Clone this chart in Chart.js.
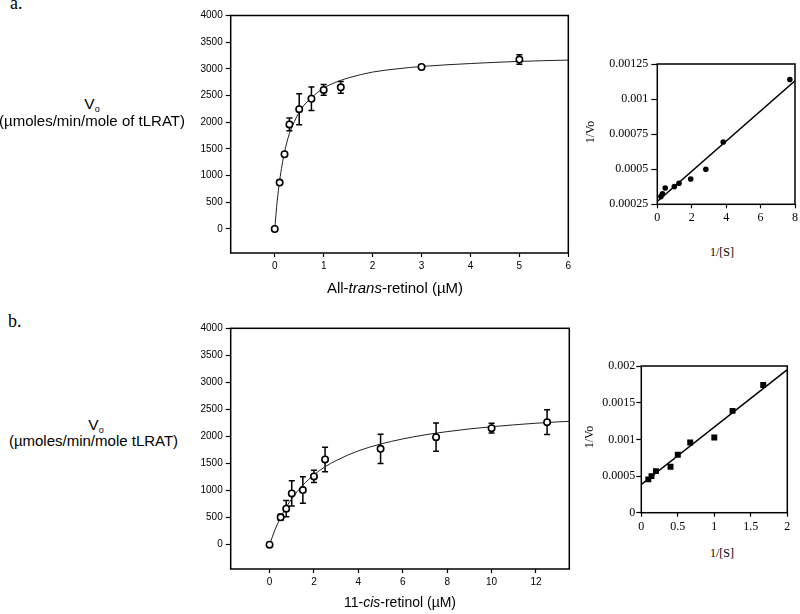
<!DOCTYPE html>
<html>
<head>
<meta charset="utf-8">
<script src="https://cdn.jsdelivr.net/npm/chart.js@4"></script>
<style>
  html, body { margin:0; padding:0; background:#fff; }
  body { width:800px; height:614px; position:relative; overflow:hidden; -webkit-font-smoothing:antialiased; }
  .c { position:absolute; }
  .t { position:absolute; white-space:nowrap; color:#000; line-height:1; transform:translate(-50%,-50%); }
  .sans { font-family:"Liberation Sans", Arial, Helvetica, sans-serif; }
  .serif { font-family:"Liberation Serif", "Times New Roman", Times, serif; color:#000; }
  .rot { transform:translate(-50%,-50%) rotate(-90deg); }
  sub { font-size:9px; vertical-align:-3px; line-height:0; }
</style>
</head>
<body>

<div class="c" style="left:180px;top:0px;"><canvas id="cA" width="420" height="300"></canvas></div>
<div class="c" style="left:600px;top:50px;"><canvas id="cAi" width="200" height="180"></canvas></div>
<div class="c" style="left:180px;top:314px;"><canvas id="cB" width="420" height="300"></canvas></div>
<div class="c" style="left:600px;top:350px;"><canvas id="cBi" width="200" height="190"></canvas></div>

<div class="serif" style="position:absolute;left:10px;top:-5.6px;font-size:18px;line-height:1;">a.</div>
<div class="serif" style="position:absolute;left:8px;top:311.6px;font-size:18px;line-height:1;">b.</div>

<div class="t sans" style="left:92px;top:104px;font-size:15.5px;">V<sub>o</sub></div>
<div class="t sans" style="left:92px;top:119.5px;font-size:15px;">(µmoles/min/mole of tLRAT)</div>
<div class="t sans" style="left:96px;top:425px;font-size:15.5px;">V<sub>o</sub></div>
<div class="t sans" style="left:93.5px;top:439.5px;font-size:15px;">(µmoles/min/mole tLRAT)</div>

<div class="t sans" style="left:395px;top:287px;font-size:15px;">All-<i>trans</i>-retinol (µM)</div>
<div class="t sans" style="left:400px;top:601.7px;font-size:14px;">11-<i>cis</i>-retinol (µM)</div>

<div class="t serif" style="left:722px;top:252px;font-size:12px;">1/[S]</div>
<div class="t serif" style="left:722px;top:553px;font-size:12px;">1/[S]</div>
<div class="t serif rot" style="left:590px;top:132px;font-size:12px;">1/Vo</div>
<div class="t serif rot" style="left:589px;top:437px;font-size:12px;">1/Vo</div>

<script>
// ================= DATA =================
// Panel a: all-trans-retinol saturation
const aSubstrate = [0, 0.1, 0.2, 0.3, 0.5, 0.75, 1, 1.35, 3, 5];
const aRate      = [0, 870, 1400, 1960, 2245, 2440, 2605, 2655, 3035, 3175];
const aRateErr   = [0, 0, 0, 120, 290, 220, 100, 110, 20, 90];
const aFitX = [0, 0.05, 0.1, 0.15, 0.2, 0.3, 0.4, 0.5, 0.6, 0.75, 1, 1.25, 1.5, 2, 2.5, 3, 4, 5, 6];
const aFitY = [0, 520, 900, 1200, 1440, 1790, 2010, 2190, 2320, 2460, 2640, 2750, 2830, 2940, 3000, 3045, 3100, 3140, 3165];
const aXTicks = [0, 1, 2, 3, 4, 5, 6];
const aYTicks = [0, 500, 1000, 1500, 2000, 2500, 3000, 3500, 4000];

// Panel a inset: Lineweaver-Burk
const aInvS = [0.21, 0.30, 0.46, 0.99, 1.26, 1.94, 2.82, 3.83, 7.70];
const aInvV = [0.000305, 0.000324, 0.000366, 0.000376, 0.0004, 0.00043, 0.0005, 0.000694, 0.00114];
const aInvFitX = [0, 8];
const aInvFitY = [0.00027, 0.00113];
const aInvXTicks = [0, 2, 4, 6, 8];
const aInvYTicks = [0.00025, 0.0005, 0.00075, 0.001, 0.00125];

// Panel b: 11-cis-retinol saturation
const bSubstrate = [0, 0.5, 0.75, 1, 1.5, 2, 2.5, 5, 7.5, 10, 12.5];
const bRate      = [0, 505, 665, 948, 1009, 1262, 1575, 1772, 1988, 2154, 2265];
const bRateErr   = [0, 55, 150, 235, 245, 115, 225, 270, 260, 90, 230];
const bFitX = [0, 0.25, 0.5, 0.75, 1, 1.5, 2, 2.5, 3, 4, 5, 6, 7, 8, 9, 10, 11, 12, 13, 13.5];
const bFitY = [0, 280, 505, 690, 850, 1100, 1290, 1440, 1555, 1735, 1860, 1955, 2030, 2090, 2140, 2180, 2215, 2245, 2270, 2280];
const bXTicks = [0, 2, 4, 6, 8, 10, 12];
const bYTicks = [0, 500, 1000, 1500, 2000, 2500, 3000, 3500, 4000];

// Panel b inset: Lineweaver-Burk
const bInvS = [0.096, 0.14, 0.2, 0.40, 0.50, 0.67, 1.0, 1.25, 1.67];
const bInvV = [0.000454, 0.000499, 0.000567, 0.000626, 0.000789, 0.000957, 0.001025, 0.001388, 0.001741];
const bInvFitX = [0, 2];
const bInvFitY = [0.000385, 0.00195];
const bInvXTicks = [0, 0.5, 1, 1.5, 2];
const bInvYTicks = [0, 0.0005, 0.001, 0.0015, 0.002];

// ================= HELPERS =================
const SANS = '"Liberation Sans", Arial, Helvetica, sans-serif';
const SERIF = '"Liberation Serif", "Times New Roman", Times, serif';

function pts(xs, ys) { return xs.map((x, i) => ({ x: x, y: ys[i] })); }

function framePlugin(lw) {
  return {
    id: 'frame',
    afterDatasetsDraw(chart) {
      const a = chart.chartArea, ctx = chart.ctx;
      ctx.save();
      ctx.strokeStyle = '#000';
      ctx.lineWidth = lw;
      ctx.strokeRect(a.left, a.top, a.right - a.left, a.bottom - a.top);
      ctx.restore();
    }
  };
}

function errPlugin(xs, ys, errs, cap) {
  return {
    id: 'errbars',
    beforeDatasetsDraw(chart) {
      const sx = chart.scales.x, sy = chart.scales.y, ctx = chart.ctx;
      ctx.save();
      ctx.strokeStyle = '#000';
      ctx.lineWidth = 1.5;
      xs.forEach((xv, i) => {
        const e = errs[i];
        if (!e) return;
        const px = sx.getPixelForValue(xv);
        const p1 = sy.getPixelForValue(ys[i] + e);
        const p2 = sy.getPixelForValue(ys[i] - e);
        ctx.beginPath();
        ctx.moveTo(px, p1); ctx.lineTo(px, p2);
        ctx.moveTo(px - cap, p1); ctx.lineTo(px + cap, p1);
        ctx.moveTo(px - cap, p2); ctx.lineTo(px + cap, p2);
        ctx.stroke();
      });
      ctx.restore();
    }
  };
}

function axis(o) {
  return {
    type: 'linear',
    position: o.pos,
    min: o.min, max: o.max,
    afterBuildTicks: s => { s.ticks = o.ticks.map(v => ({ value: v })); },
    afterFit: s => { if (o.pos === 'left') s.width = o.size; else s.height = o.size; },
    ticks: {
      color: '#000', autoSkip: false, maxRotation: 0, padding: o.pad,
      font: { family: o.family, size: o.fontSize },
      callback: v => String(v)
    },
    grid: { display: true, drawOnChartArea: false, drawTicks: true, tickLength: o.tl, tickWidth: 1.2, tickColor: '#000' },
    border: { display: false }
  };
}

function makeChart(id, W, H, area, xo, yo, datasets, plugins) {
  const ctx = document.getElementById(id);
  return new Chart(ctx, {
    type: 'scatter',
    data: { datasets: datasets },
    options: {
      responsive: false, animation: false, events: [],
      layout: { autoPadding: false, padding: { left: 0, top: area.t, right: W - area.r, bottom: 0 } },
      plugins: { legend: { display: false }, tooltip: { enabled: false } },
      scales: {
        x: axis(Object.assign({ pos: 'bottom', size: H - area.b }, xo)),
        y: axis(Object.assign({ pos: 'left', size: area.l }, yo))
      }
    },
    plugins: plugins
  });
}

// ================= CHARTS =================
// Panel a main
makeChart('cA', 420, 300, { l: 50.7, t: 15.5, r: 388.3, b: 253 },
  { min: -0.9, max: 6, ticks: aXTicks, family: SANS, fontSize: 10, pad: 3, tl: 4 },
  { min: -450, max: 4000, ticks: aYTicks, family: SANS, fontSize: 10, pad: 3, tl: 5 },
  [
    { data: pts(aSubstrate, aRate), pointStyle: 'circle', pointRadius: 3.2, pointBorderWidth: 1.6,
      pointBackgroundColor: '#fff', pointBorderColor: '#000', showLine: false },
    { data: pts(aFitX, aFitY), showLine: true, borderColor: '#222', borderWidth: 1,
      pointRadius: 0, cubicInterpolationMode: 'monotone' }
  ],
  [errPlugin(aSubstrate, aRate, aRateErr, 3), framePlugin(1.5)]
);

// Panel a inset
makeChart('cAi', 200, 180, { l: 57.3, t: 14, r: 199, b: 154.3 },
  { min: 0, max: 8, ticks: aInvXTicks, family: SERIF, fontSize: 12, pad: 2, tl: 4 },
  { min: 0.00025, max: 0.00125, ticks: aInvYTicks, family: SERIF, fontSize: 12, pad: 3, tl: 6 },
  [
    { data: pts(aInvS, aInvV), pointStyle: 'circle', pointRadius: 2.8, pointBorderWidth: 0,
      pointBackgroundColor: '#000', showLine: false },
    { data: pts(aInvFitX, aInvFitY), showLine: true, borderColor: '#000', borderWidth: 1.5, pointRadius: 0 }
  ],
  [framePlugin(1.5)]
);

// Panel b main
makeChart('cB', 420, 300, { l: 50.7, t: 14.3, r: 389.3, b: 255 },
  { min: -1.75, max: 13.5, ticks: bXTicks, family: SANS, fontSize: 10, pad: 3, tl: 4 },
  { min: -450, max: 4000, ticks: bYTicks, family: SANS, fontSize: 10, pad: 3, tl: 5 },
  [
    { data: pts(bSubstrate, bRate), pointStyle: 'circle', pointRadius: 3.2, pointBorderWidth: 1.6,
      pointBackgroundColor: '#fff', pointBorderColor: '#000', showLine: false },
    { data: pts(bFitX, bFitY), showLine: true, borderColor: '#222', borderWidth: 1,
      pointRadius: 0, cubicInterpolationMode: 'monotone' }
  ],
  [errPlugin(bSubstrate, bRate, bRateErr, 3), framePlugin(1.5)]
);

// Panel b inset
makeChart('cBi', 200, 190, { l: 41.3, t: 16, r: 187.3, b: 162.7 },
  { min: 0, max: 2, ticks: bInvXTicks, family: SERIF, fontSize: 12, pad: 3, tl: 4 },
  { min: 0, max: 0.002, ticks: bInvYTicks, family: SERIF, fontSize: 12, pad: 1, tl: 5 },
  [
    { data: pts(bInvS, bInvV), pointStyle: 'rect', pointRadius: 4.2, pointBorderWidth: 0,
      pointBackgroundColor: '#000', showLine: false },
    { data: pts(bInvFitX, bInvFitY), showLine: true, borderColor: '#000', borderWidth: 1.5, pointRadius: 0 }
  ],
  [framePlugin(1.5)]
);
</script>
</body>
</html>
